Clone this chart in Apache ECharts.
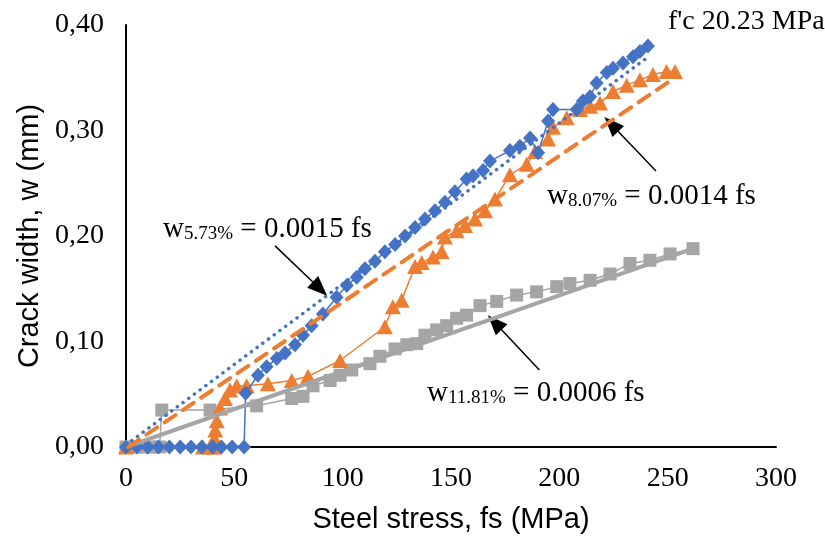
<!DOCTYPE html>
<html>
<head>
<meta charset="utf-8">
<script src="https://cdn.jsdelivr.net/npm/echarts@6/dist/echarts.min.js"></script>
<style>html,body{margin:0;padding:0;background:#fff}#c{width:825px;height:539px}</style>
</head>
<body>
<div id="c"></div>
<script>
// ---- data ----
var blueStress = [0,5,10,15,20,25,30,35,40,44,49,54.5,55.2,60.9,64.9,69.6,73.4,78.0,81.7,85.7,90.9,97.2,101.9,106.5,110.3,114.9,119.5,124.2,128.8,133.4,138.0,142.6,147.2,151.8,157.2,160.2,164.8,168.0,177.2,181.8,186.5,190.2,194.8,197.1,208.0,210.9,214.2,217.2,221.9,224.8,229.4,234.0,237.2,240.9];
var blueWidth  = [0,0,0,0,0,0,0,0,0,0,0,0,0.051,0.068,0.076,0.084,0.089,0.097,0.106,0.115,0.126,0.142,0.153,0.161,0.169,0.176,0.185,0.192,0.200,0.208,0.216,0.224,0.232,0.242,0.254,0.257,0.262,0.271,0.281,0.285,0.293,0.279,0.309,0.320,0.320,0.328,0.332,0.345,0.355,0.359,0.364,0.370,0.375,0.380];

var orangeStress = [0,35.5,38.8,40.6,40.8,41.2,41.9,43.4,45.7,48.0,51.1,55.7,65.5,76.5,84.0,98.8,119.5,123.2,127.2,133.4,136.5,141.7,145.7,147.2,152.6,156.5,161.1,165.7,170.3,177.2,184.9,188.8,194.8,197.1,203.4,209.5,214.2,218.8,224.8,231.1,237.2,243.2,249.5,253.4];
var orangeWidth  = [0,0,0,0,0.008,0.016,0.025,0.037,0.046,0.054,0.058,0.058,0.060,0.063,0.067,0.082,0.114,0.133,0.139,0.171,0.175,0.180,0.185,0.199,0.205,0.210,0.216,0.224,0.235,0.258,0.268,0.280,0.292,0.303,0.312,0.320,0.323,0.326,0.337,0.343,0.348,0.353,0.356,0.356];

var grayStress = [0,4,8,12,15.5,16.5,38.8,60.3,76.5,81.7,86.3,94.2,98.8,104.2,112.6,117.2,124.2,129.6,134.2,138.0,143.4,148.0,152.6,157.2,163.4,171.1,180.3,189.5,198.8,204.9,214.2,223.4,232.6,241.8,251.1,261.7];
var grayWidth  = [0,0,0,0,0,0.035,0.035,0.039,0.046,0.048,0.058,0.063,0.068,0.073,0.079,0.086,0.093,0.097,0.098,0.106,0.111,0.115,0.122,0.125,0.134,0.138,0.144,0.147,0.152,0.155,0.158,0.164,0.174,0.177,0.183,0.188];

// trend line end points
var trendBlue   = [[0, 0.002], [240.5, 0.369]];
var trendOrange = [[1, 0], [251.9, 0.348]];
var trendGray   = [[0, 0], [261.7, 0.188]];

// axis ticks
var xTicks = [0, 300, 50];
var yTicks = [0, 0.4, 0.1];

// annotation texts and arrows (tail -> tip, data coords)
var notes = [
  {w: 'w', sub: '5.73%', rest: ' = 0.0015 fs'},
  {w: 'w', sub: '8.07%', rest: ' = 0.0014 fs'},
  {w: 'w', sub: '11.81%', rest: ' = 0.0006 fs'}
];
var arrows = [
  [[68.8, 0.1906], [89.5, 0.150]],
  [[244.6, 0.2616], [224.0, 0.3060]],
  [[190.8, 0.0729], [170.2, 0.118]]
];
var strengthLabel = "f'c 20.23 MPa";

function zip(a, b) { return a.map(function (v, i) { return [v, b[i]]; }); }

var serif = '"Liberation Serif","Times New Roman",serif';
var sans = '"Liberation Sans",Arial,sans-serif';
var noteRich = {
  m: {fontFamily: serif, fontSize: 29, lineHeight: 32, verticalAlign: 'bottom', color: '#000'},
  s: {fontFamily: serif, fontSize: 19, lineHeight: 14, verticalAlign: 'bottom', color: '#000'}
};
var notePos = [[163, 212], [547, 179], [427, 376]];

var chart = echarts.init(document.getElementById('c'), null, {renderer: 'canvas'});
var option = {
  animation: false,
  backgroundColor: '#fff',
  grid: {left: 126, right: 49, top: 25, bottom: 90, containLabel: false},
  xAxis: {
    type: 'value', min: xTicks[0], max: xTicks[1], interval: xTicks[2],
    axisLine: {show: true, lineStyle: {color: '#000', width: 2}},
    axisTick: {show: false}, splitLine: {show: false},
    axisLabel: {fontFamily: serif, fontSize: 28, color: '#000', margin: 18},
    name: 'Steel stress, fs (MPa)', nameLocation: 'middle', nameGap: 58,
    nameTextStyle: {fontFamily: sans, fontSize: 29, color: '#000'}
  },
  yAxis: {
    type: 'value', min: yTicks[0], max: yTicks[1], interval: yTicks[2],
    axisLine: {show: true, lineStyle: {color: '#000', width: 2}},
    axisTick: {show: false}, splitLine: {show: false},
    axisLabel: {fontFamily: serif, fontSize: 28, color: '#000', margin: 22,
      formatter: function (v) { return v.toFixed(2).replace('.', ','); }},
    name: 'Crack width, w (mm)', nameLocation: 'middle', nameGap: 82, nameRotate: 90,
    nameTextStyle: {fontFamily: sans, fontSize: 29, color: '#000'}
  },
  series: [
    {type: 'line', name: 'gray', data: zip(grayStress, grayWidth), symbol: 'rect', symbolSize: 13,
      itemStyle: {color: '#A5A5A5'}, lineStyle: {color: '#A5A5A5', width: 1.5}, z: 2},
    {type: 'line', name: 'orange', data: zip(orangeStress, orangeWidth), symbol: 'triangle', symbolSize: [16, 15],
      itemStyle: {color: '#ED7D31'}, lineStyle: {color: '#ED7D31', width: 1.5}, z: 3},
    {type: 'line', name: 'blue', data: zip(blueStress, blueWidth), symbol: 'diamond', symbolSize: [14, 15],
      itemStyle: {color: '#4472C4'}, lineStyle: {color: '#4472C4', width: 1.5}, z: 4},
    {type: 'line', name: 'grayTrend', data: trendGray, symbol: 'none',
      lineStyle: {color: '#A5A5A5', width: 4}, z: 5,
      markLine: {
        silent: true, symbol: ['none', 'triangle'], symbolSize: [16, 20],
        lineStyle: {color: '#000', width: 1.5, type: 'solid'}, label: {show: false},
        data: arrows.map(function (a) { return [{coord: a[0]}, {coord: a[1]}]; })
      }},
    {type: 'line', name: 'orangeTrend', data: trendOrange, symbol: 'none',
      lineStyle: {color: '#ED7D31', width: 4, type: [13, 9], cap: 'round'}, z: 6},
    {type: 'line', name: 'blueTrend', data: trendBlue, symbol: 'none',
      lineStyle: {color: '#4472C4', width: 3.5, type: [0.1, 7], cap: 'round'}, z: 7}
  ],
  graphic: notes.map(function (n, i) {
    return {type: 'text', x: notePos[i][0], y: notePos[i][1], z: 100,
      style: {text: '{m|' + n.w + '}{s|' + n.sub + '}{m|' + n.rest + '}', rich: noteRich,
        verticalAlign: 'top', align: 'left', fill: '#000'}};
  }).concat([{type: 'text', x: 668, y: 22, z: 100,
    style: {text: strengthLabel, font: '28px ' + serif, fill: '#000', verticalAlign: 'middle', align: 'left'}}])
};
chart.setOption(option);
</script>
</body>
</html>
